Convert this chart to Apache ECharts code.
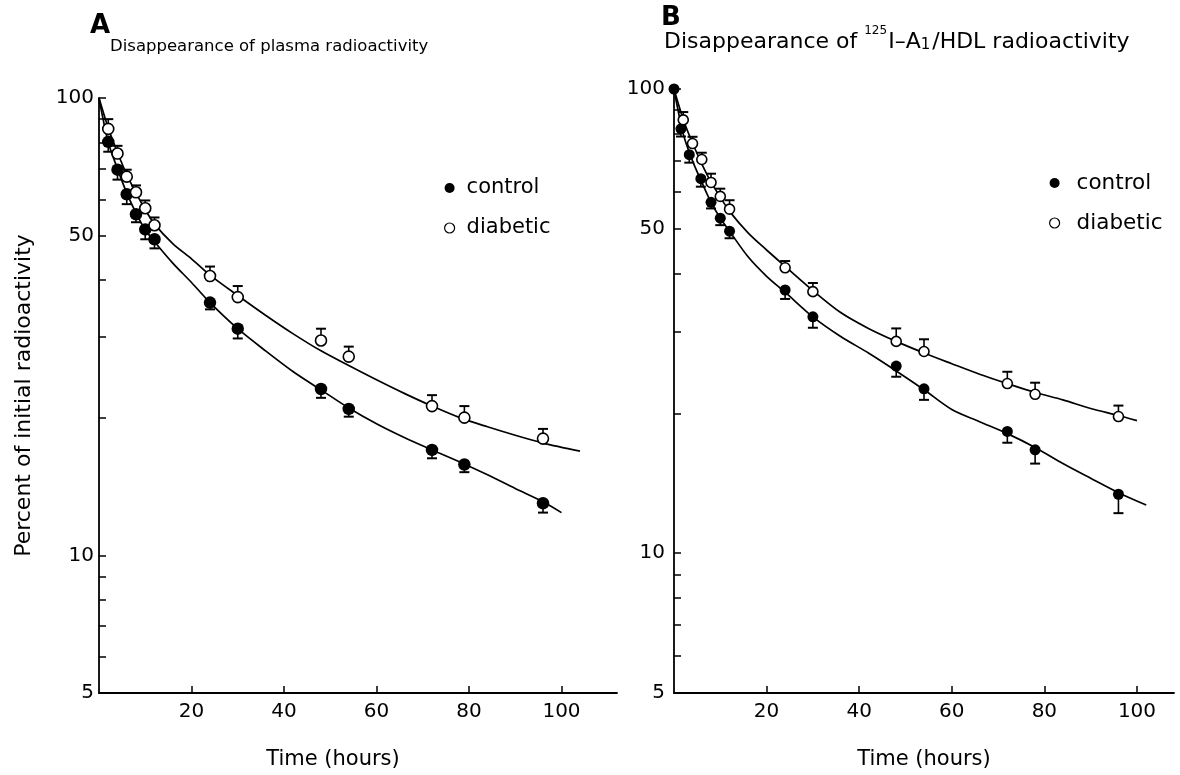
<!DOCTYPE html>
<html><head><meta charset="utf-8">
<script src="https://cdn.jsdelivr.net/npm/echarts@6/dist/echarts.min.js"></script>
<style>html,body{margin:0;padding:0;background:#fff}#c{width:1180px;height:775px}</style>
</head><body><div id="c"></div>
<script>
// ---------- Panel A: plasma radioactivity ----------
const aTimesControl = [2, 4, 6, 8, 10, 12, 24, 30, 48, 54, 72, 79, 96];
const aControl      = [80.2, 69.7, 61.6, 55.7, 51.6, 49.1, 35.7, 31.3, 23.1, 20.9, 17.0, 15.8, 13.0];
const aControlErr   = [3.9, 3.4, 3.0, 2.2, 2.5, 2.2, 1.2, 1.5, 1.0, 0.8, 0.7, 0.6, 0.6];
const aTimesDiabetic = [2, 4, 6, 8, 10, 12, 24, 30, 48, 54, 72, 79, 96];
const aDiabetic      = [85.6, 75.6, 67.3, 62.2, 57.4, 52.7, 40.8, 36.7, 29.5, 27.2, 21.2, 20.0, 18.0];
const aDiabeticErr   = [4.3, 3.0, 2.4, 2.2, 2.3, 2.1, 2.0, 2.1, 1.8, 1.4, 1.2, 1.2, 0.9];
const aControlFitT   = [0, 2, 4, 6, 8, 10, 12, 16, 20, 24, 30, 36, 42, 48, 54, 60, 66, 72, 78, 84, 90, 96, 100];
const aControlFit    = [100, 80, 70, 62, 56, 51.5, 48.5, 43.5, 39.5, 35.7, 31.3, 28, 25.2, 23, 21, 19.4, 18.1, 17, 16, 15, 14, 13.1, 12.4];
const aDiabeticFitT  = [0, 2, 4, 6, 8, 10, 12, 16, 20, 24, 30, 36, 42, 48, 54, 60, 66, 72, 78, 84, 90, 96, 104];
const aDiabeticFit   = [100, 86, 76, 68, 62, 57, 53, 48, 44.5, 41, 37, 33.5, 30.5, 28, 26, 24.2, 22.6, 21.2, 20, 19.1, 18.3, 17.6, 16.9];

// ---------- Panel B: 125I-A1/HDL radioactivity ----------
const bTimesControl = [0, 1.5, 3.3, 5.8, 8, 10, 12, 24, 30, 48, 54, 72, 78, 96];
const bControl      = [100, 82.1, 72.2, 64.1, 57.0, 52.7, 49.4, 36.9, 32.3, 25.3, 22.6, 18.3, 16.7, 13.4];
const bControlErr   = [0, 3.1, 2.8, 2.5, 1.7, 1.8, 1.7, 1.6, 1.7, 1.3, 1.2, 1.0, 1.1, 1.2];
const bTimesDiabetic = [2, 4, 6, 8, 10, 12, 24, 30, 48, 54, 72, 78, 96];
const bDiabetic      = [85.8, 76.3, 70.5, 62.9, 58.7, 55.1, 41.2, 36.6, 28.6, 27.2, 23.2, 22.0, 19.7];
const bDiabeticErr   = [3.4, 2.6, 2.4, 2.8, 2.3, 2.5, 1.4, 1.6, 1.9, 1.7, 1.4, 1.3, 1.1];
const bControlFitT   = [0, 2, 4, 6, 8, 10, 12, 16, 20, 24, 30, 36, 42, 48, 54, 60, 66, 72, 78, 84, 90, 96, 102];
const bControlFit    = [100, 80, 70, 63, 57, 52.7, 49.4, 43.5, 39.5, 36.5, 32.3, 29.3, 27.0, 24.7, 22.5, 20.4, 19.2, 18.1, 16.9, 15.6, 14.5, 13.5, 12.7];
const bDiabeticFitT  = [0, 2, 4, 6, 8, 10, 12, 16, 20, 24, 30, 36, 42, 48, 54, 60, 66, 72, 78, 84, 90, 96, 100];
const bDiabeticFit   = [100, 86, 76.5, 69, 63, 58.5, 54.5, 49, 45, 41.5, 36.8, 33, 30.5, 28.6, 27, 25.6, 24.3, 23.2, 22.2, 21.4, 20.5, 19.8, 19.3];

// ---------- Axis ticks / labels ----------
const xTickValues = [20, 40, 60, 80, 100];
const yTickValues = [5, 6, 7, 8, 9, 10, 20, 30, 40, 50, 60, 70, 80, 90, 100];
const yLabelValues = [5, 10, 50, 100];

const FONT = 'DejaVu Sans';
const chart = echarts.init(document.getElementById('c'), null, {renderer: 'canvas'});

function pairs(t, v) { return t.map((x, i) => [x, v[i]]); }
function triples(t, v, e) { return t.map((x, i) => [x, v[i], e[i]]); }

function errSeries(idx, data, dir, cap) {
  return {
    type: 'custom', xAxisIndex: idx, yAxisIndex: idx, z: 3, silent: true,
    encode: {x: 0, y: 1}, data: data,
    renderItem: function (params, api) {
      const e = api.value(2);
      if (!e) return null;
      const x = api.value(0), v = api.value(1);
      const p0 = api.coord([x, v]);
      const p1 = api.coord([x, v + dir * e]);
      return {type: 'group', children: [
        {type: 'line', shape: {x1: p0[0], y1: p0[1], x2: p1[0], y2: p1[1]}, style: {stroke: '#000', lineWidth: 1.6}},
        {type: 'line', shape: {x1: p1[0] - cap, y1: p1[1], x2: p1[0] + cap, y2: p1[1]}, style: {stroke: '#000', lineWidth: 2}}
      ]};
    }
  };
}
function fitSeries(idx, name, data) {
  return {type: 'line', name: name, xAxisIndex: idx, yAxisIndex: idx, data: data, smooth: 0.3,
    showSymbol: false, silent: true, z: 2, lineStyle: {color: '#000', width: 1.7}};
}
function scatterSeries(idx, name, data, size, filled) {
  return {type: 'scatter', name: name, xAxisIndex: idx, yAxisIndex: idx, data: data, symbol: 'circle',
    symbolSize: size, z: 5, silent: true,
    itemStyle: filled ? {color: '#000', opacity: 1} : {color: '#fff', borderColor: '#000', borderWidth: 1.6, opacity: 1}};
}
function xAxis(idx, max, namePad) {
  return {gridIndex: idx, type: 'value', min: 0, max: max,
    axisLine: {show: true, onZero: false, lineStyle: {color: '#000', width: 1.8}},
    axisTick: {show: true, inside: true, length: 7, customValues: xTickValues, lineStyle: {color: '#000', width: 1.5}},
    axisLabel: {customValues: xTickValues, color: '#000', fontSize: 20, fontFamily: FONT, margin: 9},
    splitLine: {show: false},
    name: 'Time (hours)', nameLocation: 'middle', nameGap: 56,
    nameTextStyle: {color: '#000', fontSize: 21, fontFamily: FONT, padding: namePad}};
}
function yAxis(idx, withName) {
  const ax = {gridIndex: idx, type: 'log', logBase: 10, min: 5, max: 100,
    axisLine: {show: true, lineStyle: {color: '#000', width: 1.8}},
    axisTick: {show: true, inside: true, length: 7, customValues: yTickValues, lineStyle: {color: '#000', width: 1.5}},
    axisLabel: {customValues: yLabelValues, color: '#000', fontSize: 20, fontFamily: FONT, margin: idx === 0 ? 5 : 9},
    splitLine: {show: false}, minorTick: {show: false}};
  if (withName) {
    ax.name = 'Percent of initial radioactivity';
    ax.nameLocation = 'middle'; ax.nameGap = 64;
    ax.nameTextStyle = {color: '#000', fontSize: 22, fontFamily: FONT};
  }
  return ax;
}
const legendData = [
  {name: 'control', icon: 'circle', itemStyle: {color: '#000', borderWidth: 0, opacity: 1}},
  {name: 'diabetic', icon: 'circle', itemStyle: {color: '#fff', borderColor: '#000', borderWidth: 1.2, opacity: 1}}
];
function legend(left, top, pad, size) {
  return {left: left, top: top, orient: 'vertical', itemWidth: 10, itemHeight: 10, itemGap: 18,
    selectedMode: false, data: legendData,
    textStyle: {color: '#000', fontSize: size, fontFamily: FONT, lineHeight: 22, padding: [0, 0, 0, pad]}};
}
const rt = {fontSize: 22, fontFamily: FONT, color: '#000', fontWeight: 'normal', lineHeight: 28, verticalAlign: 'bottom'};

chart.setOption({
  backgroundColor: '#fff',
  animation: false,
  title: [
    {text: 'A', left: 90, top: 13, padding: 0, textStyle: {fontSize: 26, fontWeight: 'bold', fontFamily: FONT, color: '#000'}},
    {text: 'Disappearance of plasma radioactivity', left: 110, top: 38, padding: 0,
      textStyle: {fontSize: 16.5, fontWeight: 'normal', fontFamily: FONT, color: '#000'}},
    {text: 'B', left: 661, top: 5, padding: 0, textStyle: {fontSize: 26, fontWeight: 'bold', fontFamily: FONT, color: '#000'}},
    {text: '{t|Disappearance of }{sup|125}{t|I\u2013A}{sub|1}{t|/HDL radioactivity}', left: 664, top: 25, padding: 0,
      textStyle: {fontWeight: 'normal', rich: {
        t: rt,
        sup: {fontSize: 12, fontFamily: FONT, color: '#000', fontWeight: 'normal', verticalAlign: 'top', lineHeight: 28, padding: [0, 1, 10, 0]},
        sub: {fontSize: 15, fontFamily: FONT, color: '#000', fontWeight: 'normal', verticalAlign: 'bottom', lineHeight: 28, padding: [6, 2, 0, 0]}
      }}}
  ],
  legend: [legend(439, 172, 7, 21), legend(1044, 167, 12, 21.5)],
  grid: [
    {left: 99, top: 98, width: 518, height: 598},
    {left: 674, top: 89, width: 500, height: 608}
  ],
  xAxis: [xAxis(0, 112, [0, 50, 0, 0]), xAxis(1, 108, [0, 0, 0, 0])],
  yAxis: [yAxis(0, true), yAxis(1, false)],
  series: [
    fitSeries(0, 'control fit', pairs(aControlFitT, aControlFit)),
    fitSeries(0, 'diabetic fit', pairs(aDiabeticFitT, aDiabeticFit)),
    errSeries(0, triples(aTimesControl, aControl, aControlErr), -1, 5),
    errSeries(0, triples(aTimesDiabetic, aDiabetic, aDiabeticErr), 1, 5),
    scatterSeries(0, 'control', pairs(aTimesControl, aControl), 12.5, true),
    scatterSeries(0, 'diabetic', pairs(aTimesDiabetic, aDiabetic), 11, false),

    fitSeries(1, 'control fit', pairs(bControlFitT, bControlFit)),
    fitSeries(1, 'diabetic fit', pairs(bDiabeticFitT, bDiabeticFit)),
    errSeries(1, triples(bTimesControl, bControl, bControlErr), -1, 5),
    errSeries(1, triples(bTimesDiabetic, bDiabetic, bDiabeticErr), 1, 5),
    scatterSeries(1, 'control', pairs(bTimesControl, bControl), 11, true),
    scatterSeries(1, 'diabetic', pairs(bTimesDiabetic, bDiabetic), 10, false)
  ]
});
</script></body></html>
